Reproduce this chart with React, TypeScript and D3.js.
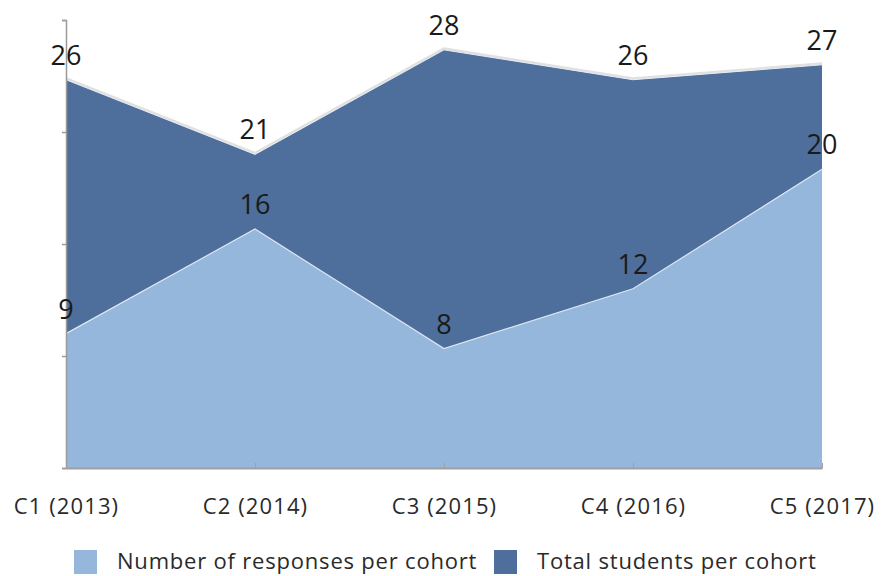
import React, { useEffect, useRef } from 'react';
import * as d3 from 'd3';

const categories = ['C1 (2013)', 'C2 (2014)', 'C3 (2015)', 'C4 (2016)', 'C5 (2017)'];
const responses = [9, 16, 8, 12, 20];
const totals = [26, 21, 28, 26, 27];
const yTicks = [0, 7.5, 15, 22.5, 30];
const seriesNames = ['Number of responses per cohort', 'Total students per cohort'];

const DARK = '#4e6e9b';
const LIGHT = '#94b7db';

const App = () => {
  const svgRef = useRef<SVGSVGElement>(null);

  useEffect(() => {
    const svg = d3.select(svgRef.current);
    svg.selectAll('*').remove();

    const width = 881;
    const height = 576;
    const margin = { top: 20, right: 59, bottom: 108, left: 66 };
    const innerHeight = height - margin.top - margin.bottom;
    const font = '"Open Sans", sans-serif';

    const x = d3.scalePoint<string>()
      .domain(categories)
      .range([margin.left, width - margin.right]);

    const y = d3.scaleLinear()
      .domain([0, 30])
      .range([margin.top + innerHeight, margin.top]);

    const area = (vals: number[]) => d3.area<number>()
      .x((_, i) => x(categories[i])!)
      .y0(y(0))
      .y1(d => y(d))(vals);

    const line = (vals: number[]) => d3.line<number>()
      .x((_, i) => x(categories[i])!)
      .y(d => y(d))(vals);

    // total students behind
    svg.append('path').attr('d', line(totals)).attr('fill', 'none')
      .attr('stroke', '#999').attr('stroke-width', 3).attr('opacity', 0.3)
      .attr('transform', 'translate(0,-1)');
    svg.append('path').attr('d', area(totals)).attr('fill', DARK);
    svg.append('path').attr('d', line(totals)).attr('fill', 'none')
      .attr('stroke', '#e8edf4').attr('stroke-width', 1);

    // responses in front
    svg.append('path').attr('d', area(responses)).attr('fill', LIGHT);
    svg.append('path').attr('d', line(responses)).attr('fill', 'none')
      .attr('stroke', '#dde7f2').attr('stroke-width', 1.2);

    // axes
    const yAxis = svg.append('g')
      .attr('transform', `translate(${margin.left},0)`)
      .call(d3.axisLeft(y).tickValues(yTicks).tickSize(4).tickFormat(() => ''));
    yAxis.selectAll('line,path').attr('stroke', '#9a9a9a').attr('stroke-width', 1.5);

    const xAxis = svg.append('g')
      .attr('transform', `translate(0,${y(0)})`)
      .call(d3.axisBottom(x).tickSize(0));
    xAxis.select('.domain').attr('stroke', '#a0a0a0').attr('stroke-width', 2);
    xAxis.selectAll('.tick line').remove();
    xAxis.selectAll('.tick').append('line')
      .attr('y1', -5).attr('y2', 0).attr('stroke', '#a0a0a0').attr('stroke-width', 1);
    xAxis.selectAll('text')
      .attr('y', 46).attr('dy', null)
      .attr('font-family', font).attr('font-size', 22).attr('letter-spacing', 1.1)
      .attr('fill', '#2a2a2a');

    // value labels
    const labels = (vals: number[]) => {
      svg.append('g').selectAll('text')
        .data(vals)
        .enter().append('text')
        .attr('x', (_, i) => x(categories[i])!)
        .attr('y', d => y(d) - 15)
        .attr('text-anchor', 'middle')
        .attr('font-family', font)
        .attr('font-size', 27)
        .attr('fill', '#1a1a1a')
        .text(d => d);
    };
    labels(totals);
    labels(responses);

    // legend
    const legend = svg.append('g').attr('transform', `translate(0,${height - 26})`);
    const legendX = [74, 494];
    const colors = [LIGHT, DARK];
    seriesNames.forEach((name, i) => {
      legend.append('rect')
        .attr('x', legendX[i]).attr('y', 0)
        .attr('width', 23).attr('height', 24)
        .attr('fill', colors[i]);
      legend.append('text')
        .attr('x', legendX[i] + 43).attr('y', 19)
        .attr('font-family', font).attr('font-size', 22).attr('letter-spacing', 0.8)
        .attr('fill', '#2a2a2a')
        .text(name);
    });
  }, []);

  return (
    <div style={{ position: 'absolute', left: 0, top: 0 }}>
      <svg ref={svgRef} width={881} height={576} style={{ display: 'block', background: '#fff' }}></svg>
    </div>
  );
};

export default App;
